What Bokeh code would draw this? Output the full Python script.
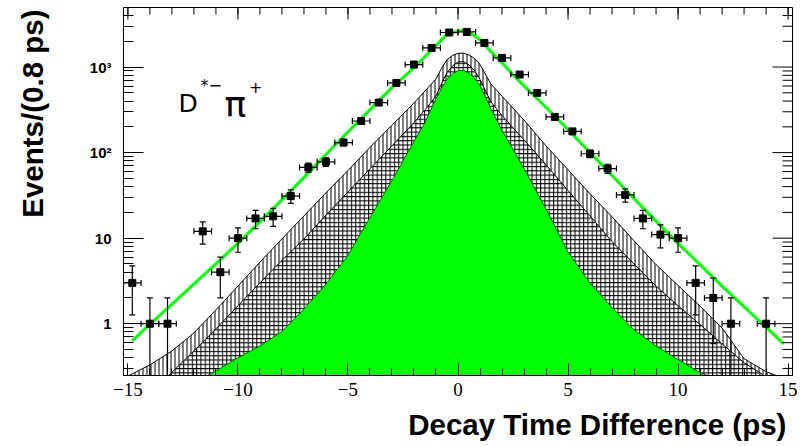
import math
from bokeh.plotting import figure
from bokeh.models import Range1d, FixedTicker, Label, ColumnDataSource
from bokeh.embed import file_html
from bokeh.resources import INLINE

# ---------------- data ----------------
bin_center = [-14.8, -14.0, -13.2, -12.4, -11.6, -10.8, -10.0, -9.2, -8.4, -7.6,
              -6.8, -6.0, -5.2, -4.4, -3.6, -2.8, -2.0, -1.2, -0.4, 0.4,
              1.2, 2.0, 2.8, 3.6, 4.4, 5.2, 6.0, 6.8, 7.6, 8.4,
              9.2, 10.0, 10.8, 11.6, 12.4, 13.2, 14.0, 14.8]
events = [3, 1, 1, 0, 12, 4, 10, 17, 18, 31,
          67, 78, 131, 234, 384, 652, 1069, 1672, 2533, 2574,
          1914, 1277, 817, 498, 261, 177, 97, 65, 32, 17,
          11, 10, 3, 2, 1, 0, 1, 0]
bin_half_width = 0.4

# stacked fit components: total (top of vertical hatch), middle (top of cross hatch), signal (green)
comp_t = [-15.2, -14, -13, -12, -11, -10, -9, -8, -7, -6, -5, -4, -3, -2, -1.5, -1, -0.75, -0.5, -0.25,
          0, 0.25, 0.5, 0.75, 1, 1.5, 2, 2.5, 3, 4, 5, 6, 7, 8, 9, 10, 11, 12, 13, 14, 15.2]
comp_total = [0.23, 0.33, 0.48, 0.78, 1.45, 2.75, 5.25, 9.8, 18.2, 33.9, 61.7, 115, 209, 380, 525, 724, 966, 1216, 1365,
              1445, 1455, 1380, 1259, 1072, 631, 457, 331, 240, 120, 63, 33, 17.8, 9.3, 4.9, 2.8, 1.6, 0.89, 0.39, 0.275, 0.21]
comp_middle = [0.08, 0.148, 0.27, 0.48, 0.87, 1.62, 3.0, 5.5, 9.8, 18.6, 34.7, 64.6, 120, 224, 316, 457, 638, 861, 1035,
               1148, 1156, 1059, 912, 716, 389, 272, 195, 141, 72, 36, 18.2, 9.1, 5.0, 2.75, 1.62, 0.98, 0.58, 0.35, 0.24, 0.15]
comp_signal = [0.071, 0.105, 0.145, 0.204, 0.28, 0.40, 0.55, 0.81, 1.48, 2.9, 6.3, 17.4, 47, 135, 224, 427, 562, 724, 832,
               908, 912, 851, 741, 617, 324, 182, 110, 65, 22, 6.9, 3.0, 1.55, 0.85, 0.55, 0.38, 0.269, 0.209, 0.158, 0.117, 0.079]

# overall fit curve
fit_t = [-14.8, -14, -13, -12, -11, -10, -9, -8, -7, -6, -5, -4, -3, -2, -1.5, -1, -0.5,
         0, 0.25, 0.5, 1, 1.5, 2, 2.5, 3, 4, 5, 6, 7, 8, 9, 10, 11, 12, 13, 14, 14.8]
fit_val = [0.63, 0.98, 1.68, 2.9, 5.0, 8.7, 15.5, 28, 51, 95, 174, 316, 575, 977, 1318, 1778, 2399,
           2630, 2692, 2570, 2089, 1514, 1122, 813, 603, 339, 186, 100, 54, 29, 15.8, 8.7, 4.9, 2.75, 1.58, 0.91, 0.58]

x_major = [-15, -10, -5, 0, 5, 10, 15]
x_minor = list(range(-15, 16))
y_major = [1, 10, 100, 1000]
y_minor = [0.3, 0.4, 0.5, 0.6, 0.7, 0.8, 0.9, 2, 3, 4, 5, 6, 7, 8, 9,
           20, 30, 40, 50, 60, 70, 80, 90, 200, 300, 400, 500, 600, 700, 800, 900, 2000, 3000, 4000]
y_labels = {1: "1", 10: "10", 100: "10\u00b2", 1000: "10\u00b3"}
x_title = "Decay Time Difference (ps)"
y_title = "Events/(0.8 ps)"

X_LO, X_HI = -15.2, 15.2
Y_LO, Y_HI = 0.248, 4966
GREEN = "#00ff00"
BOTTOM = 1e-3
NBSP = "\u00a0"

p = figure(width=802, height=446, x_range=Range1d(X_LO, X_HI), y_range=Range1d(Y_LO, Y_HI),
           y_axis_type="log", output_backend="svg", toolbar_location=None,
           min_border_left=123, min_border_right=10, min_border_top=7, min_border_bottom=71)
p.background_fill_color = "white"
p.border_fill_color = "white"
p.outline_line_color = "black"
p.outline_line_width = 1
p.xgrid.visible = False
p.ygrid.visible = False

# ---- components ----
p.varea(x=comp_t, y1=comp_middle, y2=comp_total, fill_color="white", fill_alpha=1,
        hatch_pattern="vertical_line", hatch_color="black", hatch_scale=4, hatch_weight=1)
p.varea(x=comp_t, y1=comp_signal, y2=comp_middle, fill_color="white", fill_alpha=1,
        hatch_pattern="cross", hatch_color="black", hatch_scale=4.3, hatch_weight=1)
p.varea(x=comp_t, y1=[BOTTOM] * len(comp_t), y2=comp_signal, fill_color=GREEN, fill_alpha=1)
p.line(comp_t, comp_total, line_color="black", line_width=1)
p.line(comp_t, comp_middle, line_color="black", line_width=1)
p.line(comp_t, comp_signal, line_color="#103010", line_width=0.8)

# ---- fit ----
p.line(fit_t, fit_val, line_color=GREEN, line_width=3)

# ---- data points with Poisson errors ----
px, py, lo, hi, lo_cap_x, lo_cap_y = [], [], [], [], [], []
for x, n in zip(bin_center, events):
    if n <= 0:
        continue
    e = math.sqrt(n)
    px.append(x)
    py.append(n)
    hi.append(n + e)
    low = n - e
    lo.append(low if low > 0 else BOTTOM)
    if low > 0:
        lo_cap_x.append(x)
        lo_cap_y.append(low)

src = ColumnDataSource(dict(x=px, y=py, lo=lo, hi=hi,
                            xl=[x - bin_half_width for x in px],
                            xr=[x + bin_half_width for x in px]))
p.segment(x0="x", y0="lo", x1="x", y1="hi", source=src, line_color="black", line_width=1.2)
p.segment(x0="xl", y0="y", x1="xr", y1="y", source=src, line_color="black", line_width=1.2)
p.scatter(x="x", y="hi", source=src, marker="dash", size=6, line_color="black", line_width=1.2)
p.scatter(lo_cap_x, lo_cap_y, marker="dash", size=6, line_color="black", line_width=1.2)
p.scatter(x="xl", y="y", source=src, marker="dash", size=6, angle=math.pi / 2,
          line_color="black", line_width=1.2)
p.scatter(x="xr", y="y", source=src, marker="dash", size=6, angle=math.pi / 2,
          line_color="black", line_width=1.2)
p.scatter(x="x", y="y", source=src, marker="square", size=7, fill_color="black", line_color="black")

# ---- mirrored ticks on top and right frame edges (clipped to the frame, so only the inner half shows) ----
p.scatter(x_major, [Y_HI] * len(x_major), marker="dash", angle=math.pi / 2, size=24, line_color="black")
p.scatter(x_minor, [Y_HI] * len(x_minor), marker="dash", angle=math.pi / 2, size=14, line_color="black")
p.scatter([X_HI] * len(y_major), y_major, marker="dash", size=40, line_color="black")
p.scatter([X_HI] * len(y_minor), y_minor, marker="dash", size=20, line_color="black")

# ---- axes ----
xa = p.xaxis[0]
xa.ticker = FixedTicker(ticks=x_major, minor_ticks=x_minor)
xa.major_tick_in = 12
xa.major_tick_out = 0
xa.minor_tick_in = 7
xa.minor_tick_out = 0
xa.major_label_standoff = 7
xa.major_label_text_font = "Liberation Serif"
xa.major_label_text_font_size = "19px"
xa.major_label_text_color = "black"
xa.axis_line_color = "black"

ya = p.yaxis[0]
ya.ticker = FixedTicker(ticks=y_major, minor_ticks=y_minor)
ya.major_label_overrides = y_labels
ya.major_tick_in = 20
ya.major_tick_out = 0
ya.minor_tick_in = 10
ya.minor_tick_out = 0
ya.major_label_standoff = 12
ya.major_label_text_font = "Liberation Sans"
ya.major_label_text_font_style = "bold"
ya.major_label_text_font_size = "15px"
ya.major_label_text_color = "black"
ya.axis_line_color = "black"

# ---- axis titles (ROOT style: pushed to the far end of each axis with leading no-break spaces) ----
for ax, txt, pad, standoff in ((xa, x_title, 34, 9), (ya, y_title, 19, 38)):
    ax.axis_label = NBSP * pad + txt
    ax.axis_label_align = "center"
    ax.axis_label_standoff = standoff
    ax.axis_label_text_font = "Liberation Sans"
    ax.axis_label_text_font_style = "bold"
    ax.axis_label_text_font_size = "29.5px"
    ax.axis_label_text_color = "black"

# ---- channel label D*- pi+ ----
p.add_layout(Label(x=-12.70, y=374, text="D", text_font="DejaVu Sans", text_font_size="25px",
                   text_baseline="alphabetic", text_color="black"))
p.add_layout(Label(x=-11.70, y=611, text="*\u2212", text_font="DejaVu Sans", text_font_size="16px",
                   text_baseline="alphabetic", text_color="black"))
p.add_layout(Label(x=-10.61, y=367, text="\u03c0", text_font="DejaVu Sans", text_font_size="36px",
                   text_baseline="alphabetic", text_color="black"))
p.add_layout(Label(x=-9.50, y=579, text="+", text_font="DejaVu Sans", text_font_size="16px",
                   text_baseline="alphabetic", text_color="black"))

open("out.html", "w").write(file_html(p, INLINE))
